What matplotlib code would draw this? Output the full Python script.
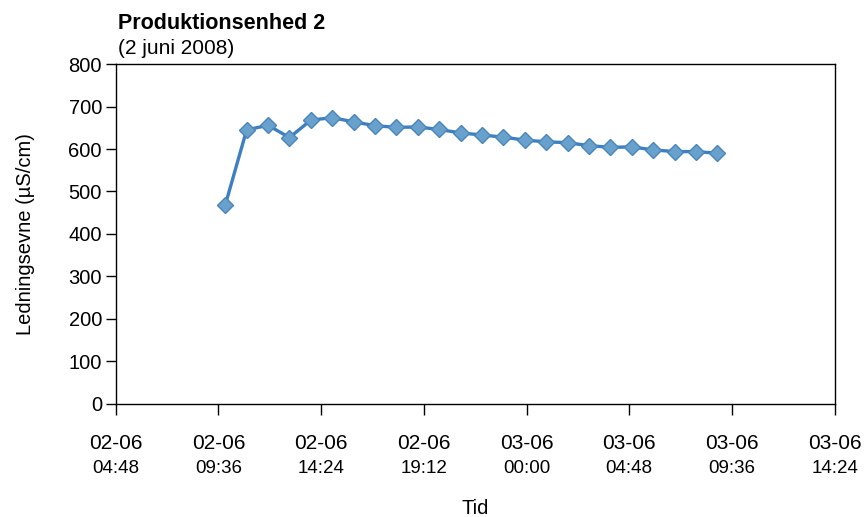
import datetime as dt
import matplotlib
matplotlib.use("Agg")
import matplotlib.pyplot as plt
import matplotlib.dates as mdates

plt.rcParams['font.family'] = ['Liberation Sans', 'DejaVu Sans']

times = ["2008-06-02 09:55", "2008-06-02 10:55", "2008-06-02 11:55", "2008-06-02 12:55",
         "2008-06-02 13:55", "2008-06-02 14:55", "2008-06-02 15:55", "2008-06-02 16:55",
         "2008-06-02 17:55", "2008-06-02 18:55", "2008-06-02 19:55", "2008-06-02 20:55",
         "2008-06-02 21:55", "2008-06-02 22:55", "2008-06-02 23:55", "2008-06-03 00:55",
         "2008-06-03 01:55", "2008-06-03 02:55", "2008-06-03 03:55", "2008-06-03 04:55",
         "2008-06-03 05:55", "2008-06-03 06:55", "2008-06-03 07:55", "2008-06-03 08:55"]
values = [468, 645, 656, 627, 668, 674, 664, 655, 651, 652, 646, 638,
          633, 628, 621, 617, 615, 608, 604, 605, 598, 594, 594, 590]

tick_times = ["2008-06-02 04:48", "2008-06-02 09:36", "2008-06-02 14:24", "2008-06-02 19:12",
              "2008-06-03 00:00", "2008-06-03 04:48", "2008-06-03 09:36", "2008-06-03 14:24"]
yticks = [0, 100, 200, 300, 400, 500, 600, 700, 800]

t = [dt.datetime.strptime(s, "%Y-%m-%d %H:%M") for s in times]
tt = [dt.datetime.strptime(s, "%Y-%m-%d %H:%M") for s in tick_times]

fig = plt.figure(figsize=(8.64, 5.17), dpi=100)
ax = fig.add_axes([0.134, 0.219, 0.832, 0.657])

ax.plot(t, values, color='#3d7fc0', lw=2.4, marker='D', markersize=8.5,
        markerfacecolor='#68a1cb', markeredgecolor='#4a86bd', markeredgewidth=1)

ax.set_xlim(tt[0], tt[-1])
ax.set_ylim(0, 800)
ax.set_yticks(yticks)
ax.tick_params(axis='y', labelsize=14.5, length=7, width=1, direction='out', pad=3)

ax.set_xticks(tt)
ax.set_xticklabels([d.strftime("%d-%m") for d in tt])
ax.tick_params(axis='x', labelsize=15, length=8, width=1, direction='out', pad=14)
for d in tt:
    ax.text(d, -0.19, d.strftime("%H:%M"), transform=ax.get_xaxis_transform(),
            ha='center', va='center', fontsize=13.5)

for s in ax.spines.values():
    s.set_linewidth(1)

ax.set_xlabel("Tid", fontsize=14.5, labelpad=33)
ax.set_ylabel("Ledningsevne (µS/cm)", fontsize=14.5, labelpad=24)

fig.text(0.136, 0.955, "Produktionsenhed 2", fontsize=15.5, fontweight='bold', va='center')
fig.text(0.136, 0.907, "(2 juni 2008)", fontsize=15, va='center')

fig.savefig("out.png", dpi=100)
